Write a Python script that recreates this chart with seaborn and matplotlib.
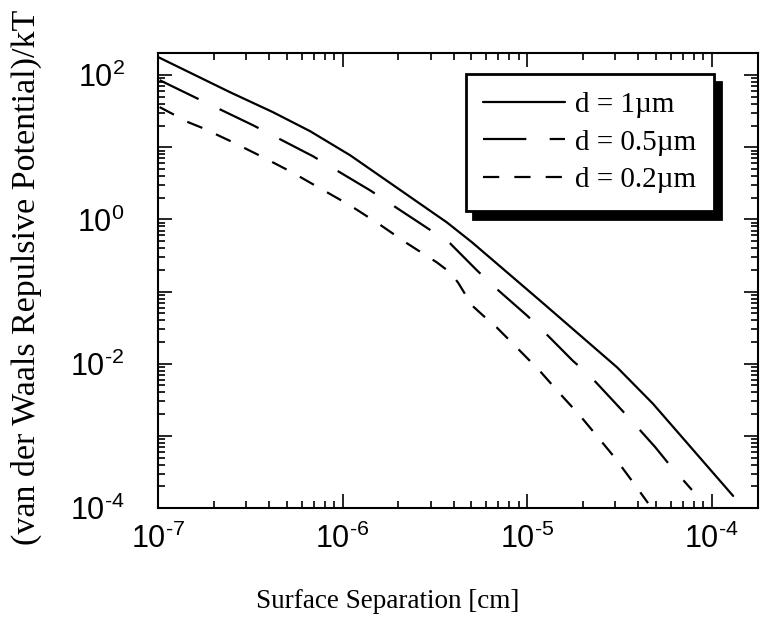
import numpy as np
import pandas as pd
import matplotlib
matplotlib.use("Agg")
import matplotlib.pyplot as plt
import matplotlib.ticker as mticker
import seaborn as sns

# ---- data (separation in cm, potential in kT) ----
sep_1um = [1.00e-7, 2.45e-7, 4.20e-7, 6.67e-7, 1.10e-6, 3.68e-6, 5.04e-6,
           1.176e-5, 3.08e-5, 4.82e-5, 1.31e-4]
pot_1um = [178, 58.1, 30.6, 16.7, 7.74, 0.908, 0.480, 0.0750, 8.89e-3,
           0.00278, 1.47e-4]

sep_05um = [1.02e-7, 1.58e-7, 3.27e-7, 6.92e-7, 1.41e-6, 2.90e-6, 3.83e-6,
            5.36e-6, 6.71e-6, 1.00e-5, 1.22e-5, 1.77e-5, 2.19e-5, 3.00e-5,
            3.61e-5, 4.94e-5, 5.81e-5, 7.83e-5]
pot_05um = [85.1, 49.4, 20.2, 7.50, 2.53, 0.750, 0.465, 0.196, 0.114, 0.0465,
            0.0287, 0.0110, 6.81e-3, 2.87e-3, 1.72e-3, 7.03e-4, 4.22e-4, 1.78e-4]

sep_02um = [1.02e-7, 1.46e-7, 1.75e-7, 2.55e-7, 3.71e-7, 5.32e-7, 7.55e-7,
            1.10e-6, 1.56e-6, 2.24e-6, 3.25e-6, 3.83e-6, 4.23e-6, 5.04e-6,
            5.78e-6, 6.87e-6, 8.93e-6, 1.17e-5, 1.51e-5, 1.94e-5, 2.39e-5,
            3.00e-5, 3.71e-5, 4.53e-5]
pot_02um = [36.0, 22.2, 18.4, 11.7, 7.26, 4.50, 2.70, 1.56, 0.879, 0.465,
            0.253, 0.184, 0.133, 0.0640, 0.0465, 0.0316, 0.0161, 8.0e-3,
            3.83e-3, 1.90e-3, 1.0e-3, 4.94e-4, 2.37e-4, 1.17e-4]

labels = ["d = 1\u00b5m", "d = 0.5\u00b5m", "d = 0.2\u00b5m"]
x_ticks = [1e-7, 1e-6, 1e-5, 1e-4]
y_ticks = [1e-4, 1e-3, 1e-2, 1e-1, 1e0, 1e1, 1e2]

df = pd.concat([
    pd.DataFrame({"sep": sep_1um, "pot": pot_1um, "d": labels[0]}),
    pd.DataFrame({"sep": sep_05um, "pot": pot_05um, "d": labels[1]}),
    pd.DataFrame({"sep": sep_02um, "pot": pot_02um, "d": labels[2]}),
], ignore_index=True)

# ---- style ----
sns.set_style("ticks")
plt.rcParams["font.family"] = ["Liberation Serif", "DejaVu Serif"]
plt.rcParams["mathtext.fontset"] = "custom"
plt.rcParams["mathtext.rm"] = "Liberation Sans"
plt.rcParams["mathtext.it"] = "Liberation Sans:italic"
plt.rcParams["mathtext.bf"] = "Liberation Sans:bold"
for key in ["text.color", "axes.labelcolor", "xtick.color", "ytick.color",
            "xtick.labelcolor", "ytick.labelcolor", "axes.edgecolor"]:
    plt.rcParams[key] = "black"

fig = plt.figure(figsize=(7.63, 6.28), dpi=100)
ax = fig.add_axes([158 / 763, 1 - 508 / 628, 600 / 763, 455 / 628])
ax.set_xscale("log")
ax.set_yscale("log")

lw = 1.6
dash_map = {labels[0]: "", labels[1]: (19.5, 10.5), labels[2]: (7.3, 6.8)}
sns.lineplot(data=df, x="sep", y="pot", style="d", dashes=dash_map,
             color="black", linewidth=lw, legend=False, ax=ax,
             estimator=None, sort=False)

ax.set_xlim(1e-7, 10 ** -3.748)
ax.set_ylim(1e-4, 10 ** 2.306)

ax.xaxis.set_major_locator(mticker.FixedLocator(x_ticks))
ax.yaxis.set_major_locator(mticker.FixedLocator(y_ticks))
ax.xaxis.set_minor_locator(mticker.LogLocator(base=10, subs=np.arange(2, 10), numticks=20))
ax.yaxis.set_minor_locator(mticker.LogLocator(base=10, subs=np.arange(2, 10), numticks=20))


def sci(e):
    if e < 0:
        return r"$\mathregular{10^{\text{-}%d}}$" % (-e)
    return r"$\mathregular{10^{%d}}$" % e


def fmt_x(v, pos):
    return sci(int(round(np.log10(v))))


def fmt_y(v, pos):
    e = int(round(np.log10(v)))
    if e % 2:
        return ""
    return sci(e)


ax.xaxis.set_major_formatter(mticker.FuncFormatter(fmt_x))
ax.yaxis.set_major_formatter(mticker.FuncFormatter(fmt_y))
ax.xaxis.set_minor_formatter(mticker.NullFormatter())
ax.yaxis.set_minor_formatter(mticker.NullFormatter())

ax.tick_params(which="both", direction="in", top=True, right=True,
               color="black", width=1.2)
ax.tick_params(which="major", length=10)
ax.tick_params(which="minor", length=5)
ax.tick_params(axis="x", which="major", labelsize=22, pad=11,
               labelfontfamily="Liberation Sans", labelcolor="black")
ax.tick_params(axis="y", which="major", labelsize=22, pad=24,
               labelfontfamily="Liberation Sans", labelcolor="black")

for sp in ax.spines.values():
    sp.set_linewidth(1.5)
    sp.set_color("black")

ax.set_xlabel("Surface Separation [cm]", fontsize=19.5, color="black")
ax.xaxis.set_label_coords(0.383, -0.178)
ax.set_ylabel("(van der Waals Repulsive Potential)/kT", fontsize=24.5,
              color="black")
ax.yaxis.set_label_coords(-0.193, 0.506)

handles = ax.get_lines()[:3]
leg = ax.legend(handles, labels, loc="upper left",
                bbox_to_anchor=(0.513, 0.954), borderaxespad=0,
                fontsize=21, frameon=True, fancybox=False,
                handlelength=2.8, handletextpad=0.35, labelspacing=0.39,
                borderpad=0.6, labelcolor="black",
                shadow={"ox": 5.5, "oy": -5.5, "facecolor": "black",
                        "edgecolor": "black", "alpha": 1.0})
leg.get_frame().set_edgecolor("black")
leg.get_frame().set_linewidth(2.0)
leg.get_frame().set_facecolor("white")
leg.get_frame().set_alpha(1.0)

fig.savefig("out.png", dpi=100)
